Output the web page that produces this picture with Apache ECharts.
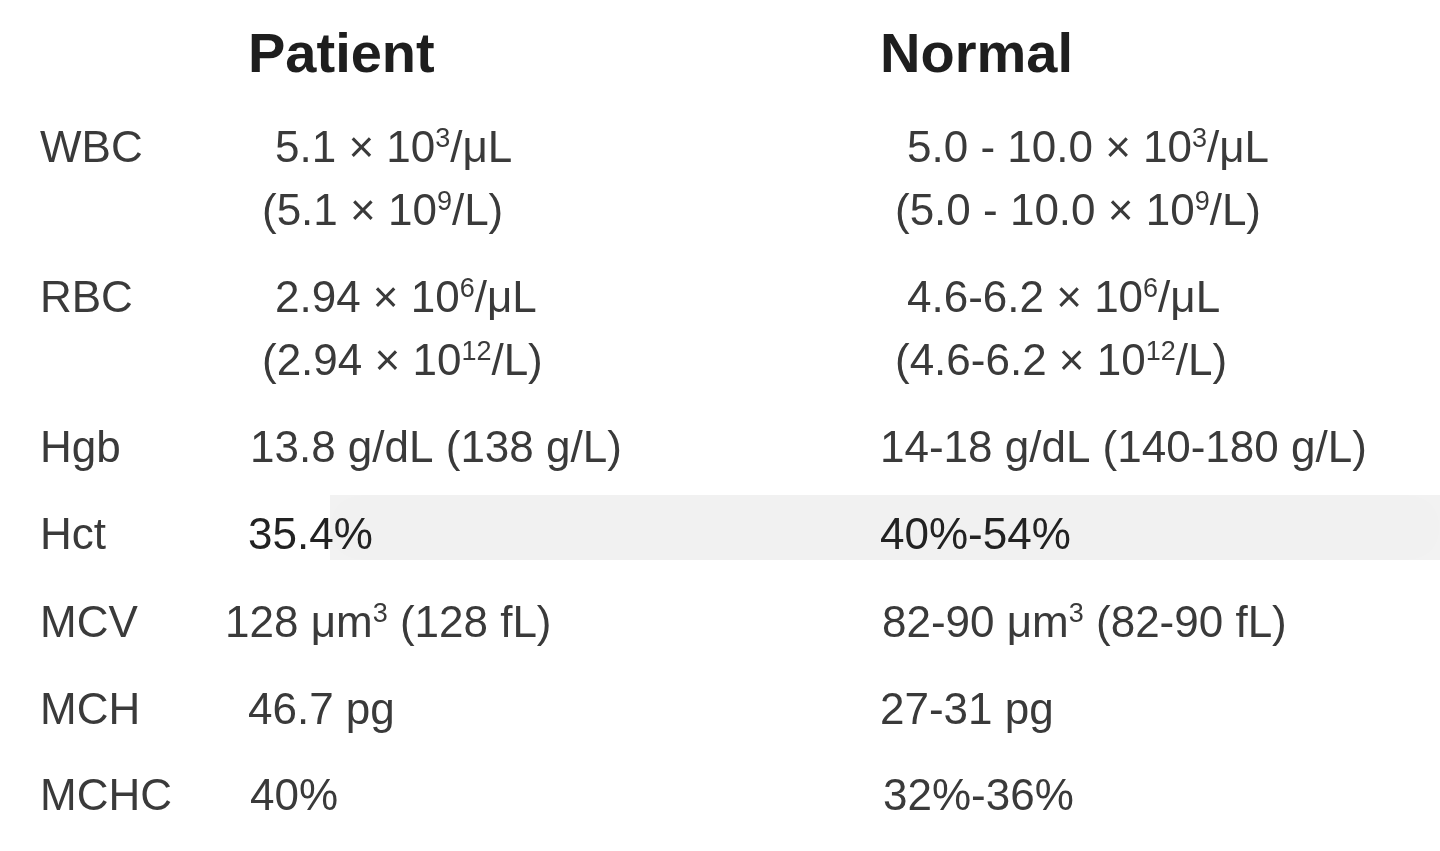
<!DOCTYPE html>
<html>
<head>
<meta charset="utf-8">
<style>html,body{margin:0;padding:0;background:#fff}#container{width:1440px;height:851px}</style>
<script src="https://cdn.jsdelivr.net/npm/echarts@6/dist/echarts.min.js"></script>
</head>
<body>
<div id="container"></div>
<script>
// Table contents; {s|..} marks superscript
const headers = ['Patient', 'Normal'];
const labels = ['WBC', 'RBC', 'Hgb', 'Hct', 'MCV', 'MCH', 'MCHC'];
const patient = [
  ['5.1 × 10{s|3}/μL', '(5.1 × 10{s|9}/L)'],
  ['2.94 × 10{s|6}/μL', '(2.94 × 10{s|12}/L)'],
  ['13.8 g/dL (138 g/L)'],
  ['35.4%'],
  ['128 μm{s|3} (128 fL)'],
  ['46.7 pg'],
  ['40%']
];
const normal = [
  ['5.0 - 10.0 × 10{s|3}/μL', '(5.0 - 10.0 × 10{s|9}/L)'],
  ['4.6-6.2 × 10{s|6}/μL', '(4.6-6.2 × 10{s|12}/L)'],
  ['14-18 g/dL (140-180 g/L)'],
  ['40%-54%'],
  ['82-90 μm{s|3} (82-90 fL)'],
  ['27-31 pg'],
  ['32%-36%']
];

const rowY = [[150, 213], [300, 363], [450], [537], [625], [712], [798]];
const patX = [[275, 262], [275, 262], [250], [248], [225], [248], [250]];
const normX = [[907, 895], [907, 895], [880], [880], [882], [880], [883]];
const labelX = [40, 40, 40, 40, 40, 40, 40];

const font = '"Liberation Sans", Arial, sans-serif';
const color = '#3a3a3a';
const rich = {
  s: { fontSize: 27, fontFamily: font, fill: color, padding: [0, 0, 20, 0] }
};

function txt(x, y, text, opts) {
  return {
    type: 'text', x: x, y: y, z: 10,
    style: Object.assign({
      text: text, fontSize: 44, fontFamily: font, fill: color,
      verticalAlign: 'middle', align: 'left', rich: rich
    }, opts || {})
  };
}

const els = [];
// soft gray band behind Hct row
els.push({
  type: 'rect', shape: { x: 330, y: 495, width: 1110, height: 65 }, z: 1,
  style: { fill: 'rgba(0,0,0,0.05)', shadowBlur: 35, shadowColor: 'rgba(0,0,0,0.15)' }
});
els.push(txt(248, 57, headers[0], { fontSize: 56, fontWeight: 'bold', fill: '#1e1e1e' }));
els.push(txt(880, 57, headers[1], { fontSize: 56, fontWeight: 'bold', fill: '#1e1e1e' }));
labels.forEach((lab, i) => {
  els.push(txt(labelX[i], rowY[i][0], lab));
  patient[i].forEach((t, j) => els.push(txt(patX[i][j], rowY[i][j], t, i === 3 ? { fill: '#222' } : null)));
  normal[i].forEach((t, j) => els.push(txt(normX[i][j], rowY[i][j], t, i === 3 ? { fill: '#222' } : null)));
});

const chart = echarts.init(document.getElementById('container'), null, { renderer: 'canvas' });
chart.setOption({ backgroundColor: '#fff', graphic: { elements: els } });
window.addEventListener('resize', () => chart.resize());
</script>
</body>
</html>
